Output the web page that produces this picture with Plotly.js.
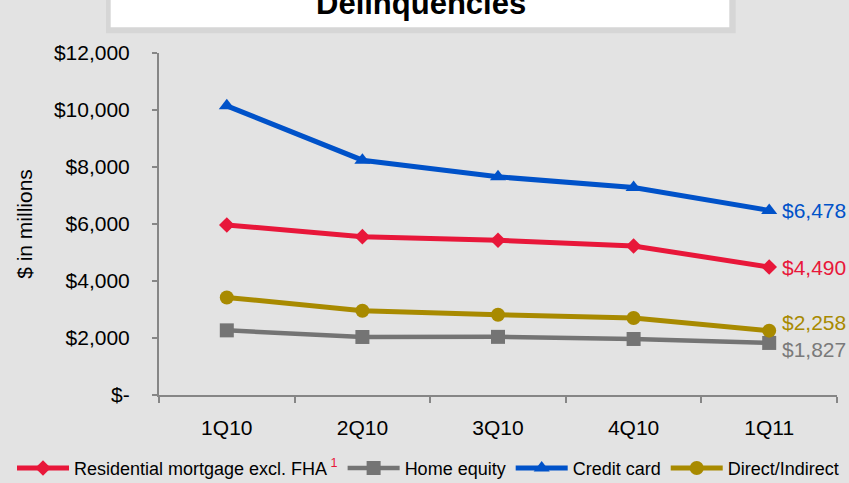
<!DOCTYPE html>
<html>
<head>
<meta charset="utf-8">
<script src="https://cdn.plot.ly/plotly-3.0.1.min.js"></script>
<style>
  html, body { margin: 0; padding: 0; background: #e3e3e3; }
  #chart { width: 849px; height: 483px; }
</style>
</head>
<body>
<div id="chart"></div>
<script>
// Quarterly delinquencies, $ in millions
const quarters = ["1Q10", "2Q10", "3Q10", "4Q10", "1Q11"];
const residential = [5965, 5557, 5430, 5230, 4490];
const homeEquity = [2268, 2036, 2040, 1966, 1827];
const creditCard = [10146, 8239, 7655, 7280, 6478];
const directIndirect = [3423, 2956, 2816, 2700, 2258];

const yTickVals = [0, 2000, 4000, 6000, 8000, 10000, 12000];
const yTickText = ["$-", "$2,000", "$4,000", "$6,000", "$8,000", "$10,000", "$12,000"];

const seriesNames = [
  "Residential mortgage excl. FHA<sup><span style=\"color:#e8173a\"> 1</span></sup>",
  "Home equity",
  "Credit card",
  "Direct/Indirect"
];
const seriesValues = [residential, homeEquity, creditCard, directIndirect];
const seriesColors = ["#e8173a", "#747474", "#0052c9", "#a88a00"];
const seriesSymbols = ["diamond", "square", "triangle-up", "circle"];
const seriesSizes = [12, 14, 14, 14];
const labelColors = ["#e8173a", "#7a7a7a", "#0052c9", "#a88a00"];
const labelShifts = [0, -7, 0, 8];

// plot area geometry (pixels)
const W = 849, H = 483;
const L = 159, R = 837, T = 52.5, B = 395.5;
const px = v => (v - L) / (R - L);
const py = v => (B - v) / (B - T);

const traces = seriesValues.map((vals, i) => ({
  type: "scatter",
  mode: "lines+markers",
  name: seriesNames[i],
  x: quarters,
  y: vals,
  line: { color: seriesColors[i], width: i === 1 ? 4.5 : 5 },
  marker: { color: seriesColors[i], symbol: seriesSymbols[i], size: seriesSizes[i] },
  hoverinfo: "x+y"
}));

const money = v => "$" + v.toLocaleString("en-US");

const endLabels = seriesValues.map((vals, i) => ({
  x: quarters[quarters.length - 1],
  y: vals[vals.length - 1],
  xref: "x", yref: "y",
  text: money(vals[vals.length - 1]),
  showarrow: false,
  xanchor: "left",
  yanchor: "middle",
  xshift: 11,
  yshift: labelShifts[i],
  font: { family: "Liberation Sans, Arial, sans-serif", size: 21, color: labelColors[i] }
}));

const layout = {
  width: W,
  height: H,
  paper_bgcolor: "#e3e3e3",
  plot_bgcolor: "#e3e3e3",
  margin: { l: L, r: W - R, t: T, b: H - B, pad: 0, autoexpand: false },
  font: { family: "Liberation Sans, Arial, sans-serif", color: "#000000" },
  showlegend: true,
  legend: {
    orientation: "h",
    xref: "paper", yref: "paper",
    x: px(12), xanchor: "left",
    y: py(469), yanchor: "middle",
    font: { size: 18, color: "#000000" },
    bgcolor: "rgba(0,0,0,0)",
    itemwidth: 52,
    tracegroupgap: 0
  },
  xaxis: {
    type: "category",
    range: [-0.5, 4.5],
    showline: true,
    linecolor: "#868686",
    linewidth: 2,
    ticks: "outside",
    tickson: "boundaries",
    ticklen: 6,
    tickwidth: 2,
    tickcolor: "#868686",
    showgrid: false,
    zeroline: false,
    tickfont: { size: 21, color: "#000000" },
    ticklabelstandoff: 13
  },
  yaxis: {
    range: [0, 12000],
    tickvals: yTickVals,
    ticktext: yTickText,
    showline: true,
    linecolor: "#868686",
    linewidth: 2,
    ticks: "outside",
    ticklen: 5,
    tickwidth: 2,
    tickcolor: "#868686",
    showgrid: false,
    zeroline: false,
    tickfont: { size: 21, color: "#000000" },
    ticklabelstandoff: 18,
    title: { text: "$ in millions", font: { size: 21, color: "#000000" }, standoff: 16 }
  },
  shapes: [
    { type: "rect", xref: "paper", yref: "paper",
      x0: px(106), x1: px(735.7), y0: py(32.7), y1: py(-10),
      fillcolor: "#d6d6d6", line: { width: 0 } },
    { type: "rect", xref: "paper", yref: "paper",
      x0: px(110.7), x1: px(729.3), y0: py(26.7), y1: py(-10),
      fillcolor: "#ffffff", line: { width: 0 } }
  ],
  annotations: [
    { x: px(420.5), y: py(3), xref: "paper", yref: "paper",
      text: "<b>Delinquencies</b>", showarrow: false,
      xanchor: "center", yanchor: "middle",
      font: { family: "Liberation Sans, Arial, sans-serif", size: 31, color: "#000000" } }
  ].concat(endLabels)
};

Plotly.newPlot("chart", traces, layout, { displayModeBar: false, staticPlot: true });
</script>
</body>
</html>
